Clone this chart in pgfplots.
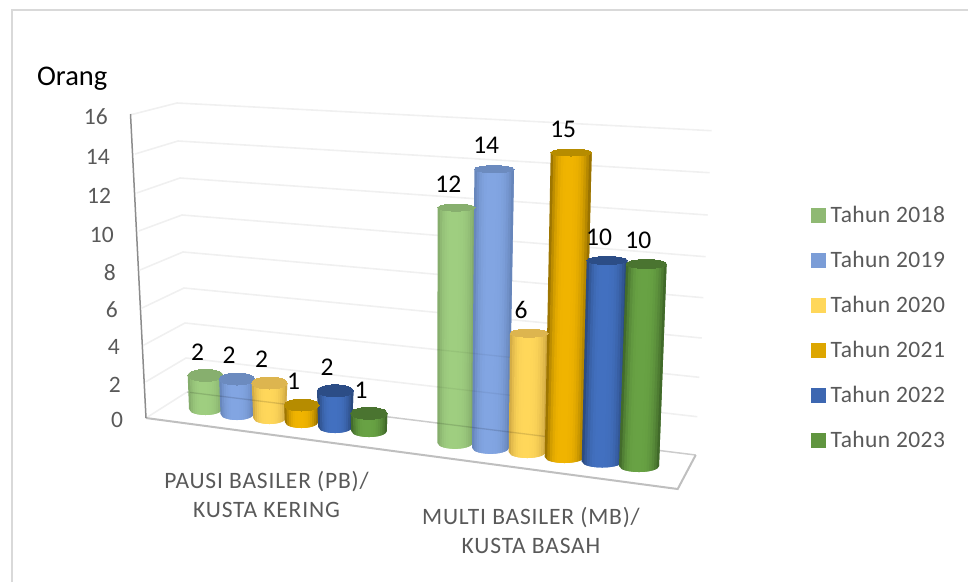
\documentclass[border=0pt]{standalone}
\usepackage{fontspec}
\setmainfont{Carlito}
\newfontfamily\legendfont[LetterSpace=1.8]{Carlito}
\newfontfamily\catfont[LetterSpace=3.5]{Carlito}
\usepackage{pgfplots}
\usepackage{pgfplotstable}
\pgfplotsset{compat=1.18}

% Cylinder tones: edge of the body, core of the body, lid
\definecolor{aedge}{HTML}{7FA567}\definecolor{acore}{HTML}{9FCE80}\definecolor{alid}{HTML}{87AF6E}
\definecolor{bedge}{HTML}{6280B3}\definecolor{bcore}{HTML}{82A5E2}\definecolor{blid}{HTML}{6C8BBF}
\definecolor{cedge}{HTML}{C9A240}\definecolor{ccore}{HTML}{FFD75A}\definecolor{clid}{HTML}{DDB54F}
\definecolor{dedge}{HTML}{8A6700}\definecolor{dcore}{HTML}{F0B400}\definecolor{dlid}{HTML}{B68C00}
\definecolor{eedge}{HTML}{264373}\definecolor{ecore}{HTML}{4270C0}\definecolor{elid}{HTML}{2C4D86}
\definecolor{fedge}{HTML}{3A5F25}\definecolor{fcore}{HTML}{68A244}\definecolor{flid}{HTML}{4A7430}
\definecolor{txt}{HTML}{595959}

% value: people; xb,yb,hwb: foot of the cylinder; unit: height of one person;
% xt,hwt,bt: position and radii of the lid
\pgfplotstableread{
series value xb    hwb   yb    unit  xt    hwt   bt
a      2     205.5 16.5  409   16.8  205.5 17.8  6
b      2     237   16.5  414   17.5  237   17.8  6
c      2     269.5 16.3  418   17.5  269.5 17.8  6
d      1     301.5 16.7  422   17.0  301.6 17.4  6
e      2     335.2 17.0  427   18.1  335.2 18.2  6
f      1     369   17.8  431   17.7  369   18.3  6
a      12    455   17.7  442.8 19.6  456.3 18.7  3.5
b      14    490.5 18.5  447.8 19.9  494.2 19.8  3.5
c      6     527.2 18.5  452   19.8  529   19.0  4
d      15    564.5 19.8  457   20.3  571.2 20.5  3.5
e      10    602.2 20.5  461.5 20.1  607   20.3  4
f      10    639   20.0  466   20.2  646.3 20.3  4.5
}\bardata

% One vertical slice of a cylinder body: it starts at the fraction #1 of the
% width and runs over #2 to #3, so that the next slice, painted over it, leaves
% no seam; #4 is the share of the core tone in the slice
\newcommand\cylslice[4]{%
  \pgfmathsetmacro\sxa{\cXt+#1*\cHt}\pgfmathsetmacro\sxc{\cXt+#3*\cHt}%
  \pgfmathsetmacro\fxa{\cXb+#1*\cHb}\pgfmathsetmacro\fxb{\cXb+#2*\cHb}\pgfmathsetmacro\fxc{\cXb+#3*\cHb}%
  \pgfmathsetmacro\fya{\cYb+6*sqrt(1-(#1)*(#1))}\pgfmathsetmacro\fyb{\cYb+6*sqrt(1-(#2)*(#2))}%
  \pgfmathsetmacro\fyc{\cYb+6*sqrt(1-(#3)*(#3))}%
  \edef\slice{\noexpand\addplot[draw=none,fill=\cS core!#4!\cS edge]
    coordinates {(\sxa,\yTop)(\fxa,\fya)(\fxb,\fyb)(\fxc,\fyc)(\sxc,\yTop)} --cycle;}%
  \slice}

% One cylinder: body in slices with a rounded foot, then the lid and its value
\newcommand\cylinder{%
  \pgfmathsetmacro\yTop{\cYb-\cV*\cU}%
  \cylslice{-1}{-.875}{-.75}{20}\cylslice{-.875}{-.75}{-.625}{50}\cylslice{-.75}{-.625}{-.5}{72}%
  \cylslice{-.625}{-.5}{-.375}{86}\cylslice{-.5}{-.375}{-.25}{95}\cylslice{-.375}{-.25}{-.125}{99}%
  \cylslice{-.25}{-.125}{0}{100}\cylslice{-.125}{0}{.125}{100}\cylslice{0}{.125}{.25}{100}%
  \cylslice{.125}{.25}{.375}{98}\cylslice{.25}{.375}{.5}{95}\cylslice{.375}{.5}{.625}{88}%
  \cylslice{.5}{.625}{.75}{78}\cylslice{.625}{.75}{.875}{63}\cylslice{.75}{.875}{1}{43}\cylslice{.875}{.94}{1}{16}%
  \pgfmathsetmacro\lidScale{\cBt/\cHt}%
  \edef\cyllid{\noexpand\addplot[only marks,mark=*,mark size=\cHt,
      mark options={draw=\cS lid,fill=\cS lid,line width=0pt,yscale=\lidScale},
      nodes near coords={\cV},
      every node near coord/.append style={anchor=center,xshift=-8pt,yshift=23.5pt,
        text=black,font=\noexpand\fontsize{25.5}{29}\noexpand\selectfont}]
    coordinates {(\cXt,\yTop)};}%
  \cyllid}

\begin{document}
\begin{tikzpicture}
\useasboundingbox (0,0) rectangle (968pt,582pt);
\begin{axis}[at={(0,0)},anchor=south west,scale only axis,width=968pt,height=582pt,
  xmin=0,xmax=968,ymin=0,ymax=582,y dir=reverse,hide axis,clip=false]

% outer frame
\addplot[color=black!15,line width=2pt] coordinates {(12,582)(12,9.5)(968,9.5)};

% gridlines on the two walls, from the side wall across the back wall
\pgfplotsset{wall line/.style={color=black!6,line width=1.6pt}}
\addplot[wall line] coordinates {(131,114.7)(177,103)(711.7,130.7)};
\addplot[wall line] coordinates {(135,154)(178,141)(709.7,172.7)};
\addplot[wall line] coordinates {(136.7,193)(180,178)(707.7,215)};
\addplot[wall line] coordinates {(138.7,231)(182,215)(705.7,256.7)};
\addplot[wall line] coordinates {(140,270)(183,252)(703.3,297.7)};
\addplot[wall line] coordinates {(142,308)(184,288)(701.7,338)};
\addplot[wall line] coordinates {(144,345)(185,323)(699.3,377.3)};
\addplot[wall line] coordinates {(145.5,382)(186,358)(697.3,416.7)};
\addplot[wall line] coordinates {(146,418)(187,392)};
\addplot[color=black!20,line width=1.5pt] coordinates {(187,392)(695.7,455)};

% floor edge and value axis
\addplot[color=black!25,line width=2pt] coordinates {(146,418)(677.7,489)(695.7,455)};
\addplot[color=black!45,line width=1.5pt] coordinates {(130.5,114)(146,418)};

% value axis numbers
\addplot[only marks,mark=none,nodes near coords,point meta=explicit symbolic,
  every node near coord/.append style={anchor=east,text=txt,
    font=\fontsize{23.5}{27}\selectfont}]
  table[meta=n] {
  x     y     n
  111.3 116.7 16
  113.3 156.7 14
  114.6 195.5 12
  117.3 235   10
  119.3 272.7 8
  121.3 310   6
  123.3 346.7 4
  124.3 385   2
  126.6 420   0
};

% cylinders, drawn from back to front
\pgfplotsforeachungrouped \rowno in {0,...,11}{%
  \pgfplotstablegetelem{\rowno}{series}\of\bardata\edef\cS{\pgfplotsretval}%
  \pgfplotstablegetelem{\rowno}{value}\of\bardata\edef\cV{\pgfplotsretval}%
  \pgfplotstablegetelem{\rowno}{xb}\of\bardata\edef\cXb{\pgfplotsretval}%
  \pgfplotstablegetelem{\rowno}{hwb}\of\bardata\edef\cHb{\pgfplotsretval}%
  \pgfplotstablegetelem{\rowno}{yb}\of\bardata\edef\cYb{\pgfplotsretval}%
  \pgfplotstablegetelem{\rowno}{unit}\of\bardata\edef\cU{\pgfplotsretval}%
  \pgfplotstablegetelem{\rowno}{xt}\of\bardata\edef\cXt{\pgfplotsretval}%
  \pgfplotstablegetelem{\rowno}{hwt}\of\bardata\edef\cHt{\pgfplotsretval}%
  \pgfplotstablegetelem{\rowno}{bt}\of\bardata\edef\cBt{\pgfplotsretval}%
  \cylinder
}

% wall lines showing faintly through the paler cylinders
\addplot[color=black,opacity=.13,line width=1.3pt] coordinates {(190,392.4)(287,404.4)};
\addplot[color=black,opacity=.13,line width=1.3pt] coordinates {(437,423)(545,436.4)};
\addplot[color=black,opacity=.05,line width=1.3pt] coordinates {(437,386.8)(510,395.2)};
\addplot[color=black,opacity=.05,line width=1.3pt] coordinates {(437,349.6)(510,357.3)};

% free texts
\node[anchor=base west,text=black,font=\fontsize{28.5}{32}\selectfont] at (axis cs:33.5,85) {Orang};
\node[align=center,text=txt,font=\catfont\fontsize{23.5}{29}\selectfont] at (axis cs:266.5,494.5)
  {PAUSI BASILER (PB)/\\KUSTA KERING};
\node[align=center,text=txt,font=\catfont\fontsize{23.5}{29}\selectfont] at (axis cs:531,530)
  {MULTI BASILER (MB)/\\KUSTA BASAH};

% legend
\pgfplotsset{legend entry/.style={only marks,mark=square*,mark size=7pt,
  mark options={draw=#1,fill=#1,line width=0pt},
  every node near coord/.append style={anchor=west,xshift=9.4pt,yshift=1pt,text=txt,
    font=\legendfont\fontsize{23.5}{27}\selectfont}}}
\addplot[legend entry=acore!90!black,nodes near coords={Tahun 2018}] coordinates {(818,215)};
\addplot[legend entry=bcore!95!black,nodes near coords={Tahun 2019}] coordinates {(818,260)};
\addplot[legend entry=ccore,nodes near coords={Tahun 2020}] coordinates {(818,305)};
\addplot[legend entry=dcore!92!black,nodes near coords={Tahun 2021}] coordinates {(818,350)};
\addplot[legend entry=ecore!92!black,nodes near coords={Tahun 2022}] coordinates {(818,395)};
\addplot[legend entry=fcore!92!black,nodes near coords={Tahun 2023}] coordinates {(818,440)};
\end{axis}
\end{tikzpicture}
\end{document}
